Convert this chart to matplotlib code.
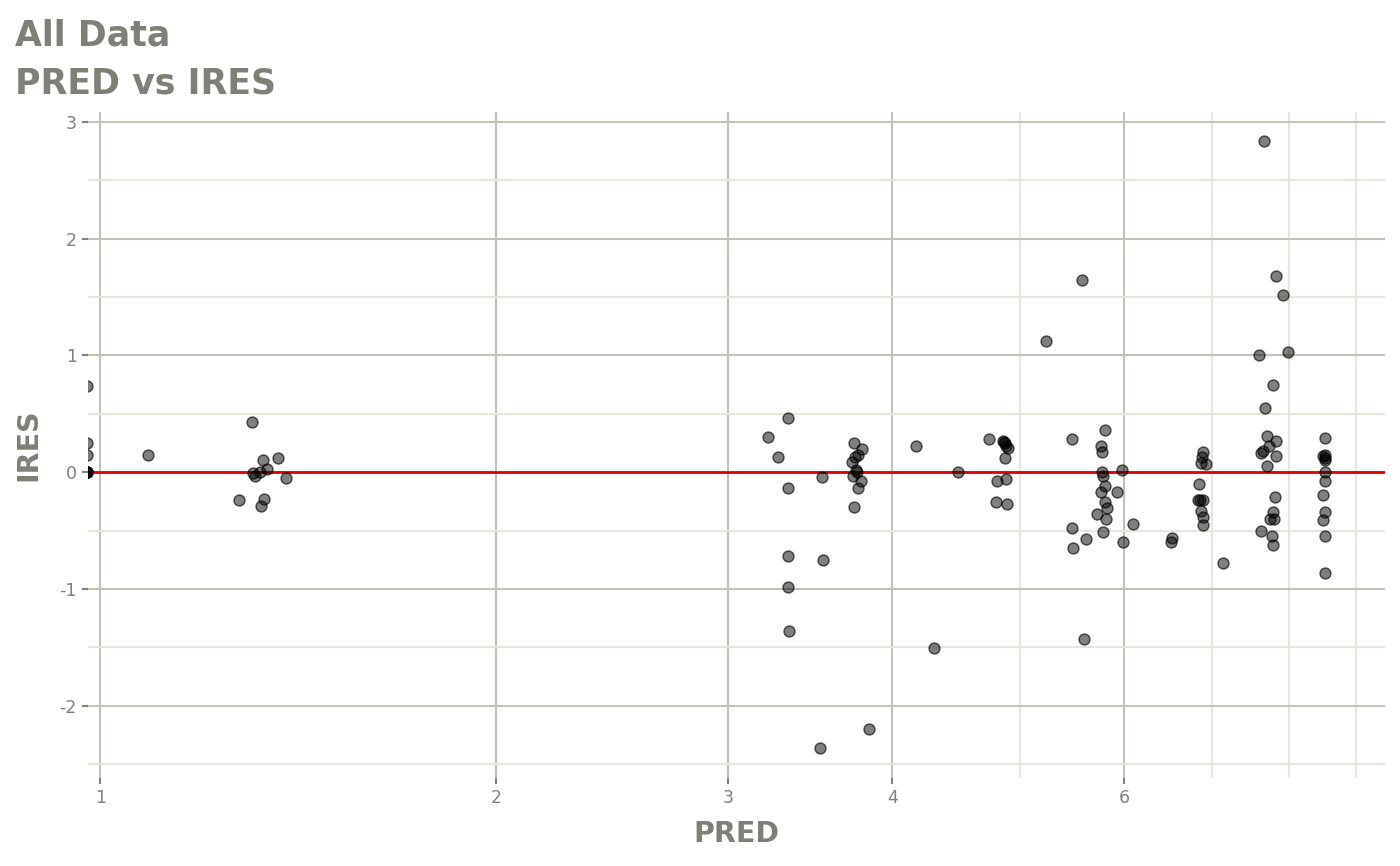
import matplotlib
matplotlib.use("Agg")
import matplotlib.pyplot as plt
from matplotlib.ticker import FixedLocator, NullFormatter

# PRED / IRES (log x axis)
pred_low = [0.978, 0.978, 0.978, 0.978, 0.978, 0.978, 0.978, 0.978,
            1.088, 1.275, 1.305, 1.307, 1.312, 1.323, 1.326, 1.330,
            1.332, 1.339, 1.366, 1.385]
ires_low = [0.74, 0.25, 0.15, 0.0, 0.0, 0.0, 0.0, 0.0,
            0.15, -0.24, 0.43, -0.01, -0.03, 0.00, -0.29, 0.10,
            -0.23, 0.03, 0.12, -0.05]

pred_mid = [3.218, 3.275, 3.333, 3.333, 3.333, 3.333, 3.339, 3.525, 3.537, 3.543,
            3.741, 3.794, 3.767, 3.748, 3.728, 3.754, 3.761, 3.735, 3.787, 3.767,
            3.741, 3.840,
            4.170, 4.302, 4.487, 4.737, 4.863, 4.855, 4.880, 4.897, 4.871, 4.871,
            4.804, 4.880, 4.796, 4.888]
ires_mid = [0.30, 0.13, 0.46, -0.14, -0.72, -0.98, -1.36, -2.36, -0.04, -0.75,
            0.25, 0.20, 0.15, 0.13, 0.09, 0.02, 0.00, -0.03, -0.08, -0.14,
            -0.30, -2.20,
            0.22, -1.51, 0.00, 0.28, 0.26, 0.27, 0.22, 0.21, 0.25, 0.12,
            -0.08, -0.06, -0.26, -0.27]

pred_high = [5.234, 5.575, 5.594, 5.478, 5.804, 5.763, 5.773, 5.773, 5.784, 5.978,
             5.804, 5.763, 5.927, 5.804, 5.824, 5.723, 5.814, 6.095, 5.478, 5.614,
             5.784, 5.488, 5.989,
             6.526, 6.514, 6.889, 6.877, 6.865, 6.925, 6.841, 6.829, 6.853, 6.889,
             6.865, 6.889, 6.889, 7.134,
             7.598, 7.993, 7.786, 7.678, 7.705, 7.827, 7.731, 7.625, 7.651, 7.827,
             7.705, 7.813, 7.786, 7.745, 7.799, 7.625, 7.772, 7.786, 7.664, 7.827,
             7.924,
             8.528, 8.528, 8.500, 8.528, 8.528, 8.528, 8.528, 8.500, 8.528, 8.500,
             8.528, 8.528]
ires_high = [1.12, 1.65, -1.43, 0.28, 0.36, 0.22, 0.17, 0.00, -0.03, 0.02,
             -0.12, -0.17, -0.17, -0.26, -0.31, -0.36, -0.40, -0.44, -0.48, -0.57,
             -0.51, -0.65, -0.60,
             -0.56, -0.60, 0.17, 0.13, 0.08, 0.07, -0.10, -0.24, -0.24, -0.24,
             -0.33, -0.38, -0.45, -0.78,
             1.00, 1.03, 0.75, 0.55, 0.31, 0.27, 0.22, 0.16, 0.18, 0.14,
             0.05, -0.21, -0.34, -0.40, -0.40, -0.50, -0.55, -0.62, 2.84, 1.68,
             1.52,
             0.29, 0.15, 0.14, 0.12, 0.10, 0.00, -0.08, -0.20, -0.34, -0.41,
             -0.55, -0.86]

pred = pred_low + pred_mid + pred_high
ires = ires_low + ires_mid + ires_high

x_major = [1, 2, 3, 4, 6]
x_minor = [5, 7, 8, 9]
y_major = [-2, -1, 0, 1, 2, 3]
y_minor = [-2.5, -1.5, -0.5, 0.5, 1.5, 2.5]

text_col = "#7f7f75"
tick_col = "#808080"
major_col = "#c2c2b6"
minor_col = "#e6e7d8"

fig = plt.figure(figsize=(14, 8.66), dpi=100)
ax = fig.add_axes([88 / 1400, 1 - 778 / 866, (1385 - 88) / 1400, (778 - 112) / 866])

ax.set_xscale("log")
ax.set_xlim(0.979, 9.47)
ax.set_ylim(-2.62, 3.085)

ax.xaxis.set_major_locator(FixedLocator(x_major))
ax.xaxis.set_minor_locator(FixedLocator(x_minor))
ax.xaxis.set_minor_formatter(NullFormatter())
ax.set_xticklabels([str(v) for v in x_major])
ax.yaxis.set_major_locator(FixedLocator(y_major))
ax.yaxis.set_minor_locator(FixedLocator(y_minor))
ax.set_yticklabels([str(v) for v in y_major])

ax.grid(which="minor", color=minor_col, linewidth=1.5, zorder=0)
ax.grid(which="major", color=major_col, linewidth=1.5, zorder=0)
ax.set_axisbelow(True)

for s in ax.spines.values():
    s.set_visible(False)

ax.tick_params(which="major", length=4, width=1.5, color=tick_col,
               labelcolor=tick_col, labelsize=12.5, pad=4)
ax.tick_params(which="minor", length=0)

ax.axhline(0, color="#e00000", linewidth=2.0, zorder=3)
ax.scatter(pred, ires, s=62, facecolors=(0, 0, 0, 0.5),
           edgecolors=(0, 0, 0, 0.65), linewidths=1.0, zorder=4)

ax.set_xlabel("PRED", fontsize=20.5, fontweight="bold", color=text_col, labelpad=9)
ax.set_ylabel("IRES", fontsize=20.5, fontweight="bold", color=text_col, labelpad=12)

fig.text(15 / 1400, 1 - 46 / 866, "All Data", fontsize=25, fontweight="bold",
         color=text_col, va="baseline", ha="left")
fig.text(15 / 1400, 1 - 93 / 866, "PRED vs IRES", fontsize=25, fontweight="bold",
         color=text_col, va="baseline", ha="left")

fig.savefig("out.png", dpi=100)
